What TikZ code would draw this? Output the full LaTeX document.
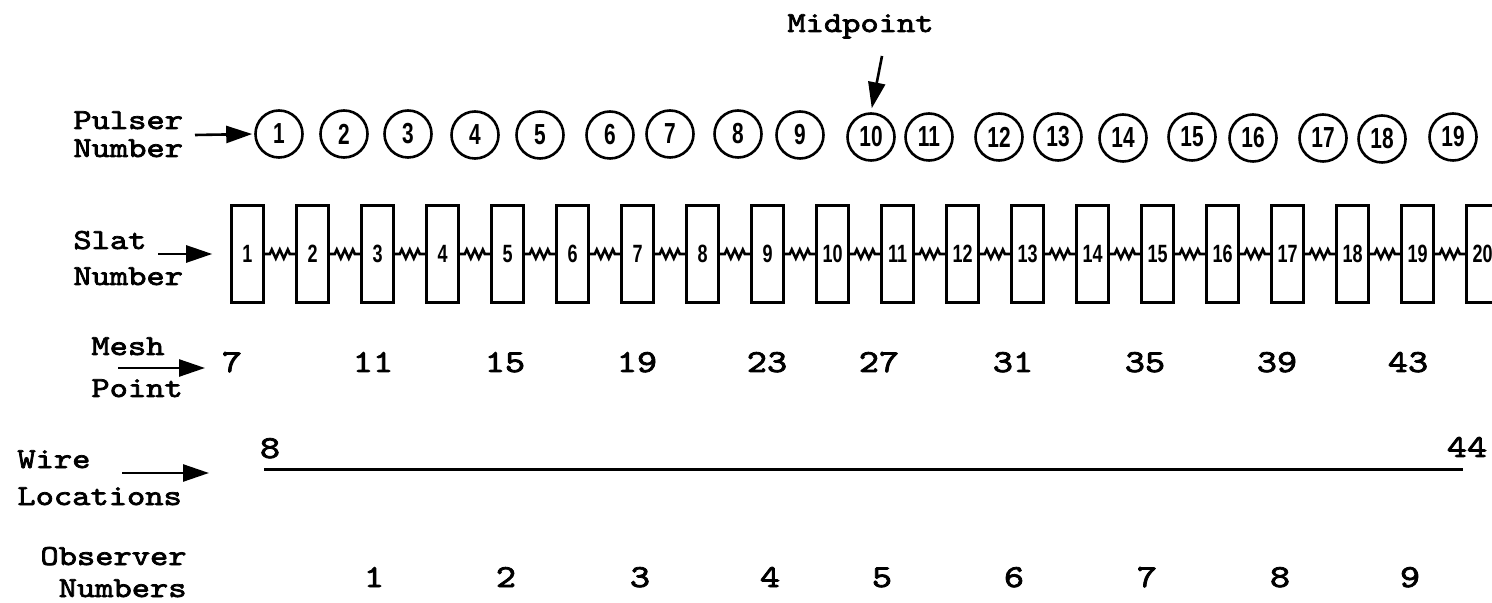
\documentclass[tikz,border=0pt]{standalone}
\usepackage{fontspec}
\usetikzlibrary{arrows.meta,decorations.pathmorphing}
\newfontfamily\lblfont[FakeStretch=1.2,FakeBold=2.5]{lmmono10-regular.otf}
\newfontfamily\digfont[FakeStretch=0.72]{Liberation Sans}
\begin{document}
\begin{tikzpicture}[x=0.5pt,y=-0.5pt,
  lbl/.style={font=\lblfont\fontsize{14.5pt}{14pt}\selectfont, inner sep=0pt},
  num/.style={font=\lblfont\fontsize{16pt}{16pt}\selectfont, inner sep=0pt, anchor=base},
  pulser/.style={circle, draw, line width=1.3pt, minimum size=23.5pt, inner sep=0pt,
    font=\digfont\bfseries\fontsize{14.5pt}{14pt}\selectfont},
  slatbox/.style={rectangle, draw, line width=1.3pt, minimum width=16pt, minimum height=48.5pt,
    inner sep=0pt, font=\digfont\bfseries\fontsize{12.5pt}{12pt}\selectfont},
  springline/.style={decorate, decoration={zigzag, segment length=4pt, amplitude=2.2pt,
    pre length=2.5pt, post length=2.5pt}, line width=1.3pt},
  ptr/.style={-{Triangle[length=13pt,width=8.5pt]}, line width=1.3pt}]
\clip (0,0) rectangle (1492,603);
% Midpoint
\node[lbl, anchor=base west] (mid) at (787,32) {Midpoint};
% pulser circles
\foreach \i/\x/\y in {1/279/134, 2/344/134, 3/408/134, 4/475/135, 5/540/135, 6/610/135,
  7/670/134, 8/738/134, 9/800/135, 10/871/137, 11/929/137, 12/999/137, 13/1058/137,
  14/1123/138, 15/1192/137, 16/1253/138, 17/1323/138, 18/1382/139, 19/1453/137}
  \node[pulser] (c\i) at (\x,\y) {\i};
\coordinate (midtail) at (882,56);
\draw[ptr, shorten >=2pt] (midtail) -- (c10.north);
% slats
\foreach \i in {1,...,20}
  \node[slatbox] (s\i) at ({247.5+65*(\i-1)},254) {\i};
\foreach \i in {1,...,19}{
  \pgfmathtruncatemacro{\j}{\i+1}
  \draw[springline] (s\i.east) -- (s\j.west);
}
% left labels
\node[lbl, anchor=base west] (pl1) at (73,129) {Pulser};
\node[lbl, anchor=base west] (pl2) at (73,157) {Number};
\coordinate (pa) at (195,135);
\draw[ptr, shorten >=1pt] (pa) -- (c1.west);

\node[lbl, anchor=base west] (sl1) at (73,249) {Slat};
\node[lbl, anchor=base west] (sl2) at (73,285) {Number};
\coordinate (sa) at (158,254);
\draw[ptr, shorten >=9pt] (sa) -- (s1.west);

\node[lbl, anchor=base west] (ml1) at (91,355) {Mesh};
\node[lbl, anchor=base west] (ml2) at (91,397) {Point};
\coordinate (ma0) at (118,368);
\coordinate (ma1) at (205,368);
\draw[ptr] (ma0) -- (ma1);

\node[lbl, anchor=base west] (wl1) at (17,468) {Wire};
\node[lbl, anchor=base west] (wl2) at (17,505) {Locations};
\coordinate (wa0) at (122,473);
\coordinate (wa1) at (209,473);
\draw[ptr] (wa0) -- (wa1);

\node[lbl, anchor=base east] (ol1) at (187,565) {Observer};
\node[lbl, anchor=base east] (ol2) at (187,597) {Numbers};
% mesh numbers
\foreach \n/\x in {7/232, 11/373, 15/505, 19/637, 23/767, 27/879, 31/1013, 35/1145, 39/1277, 43/1408}
  \node[num] (m\n) at (\x,372) {\n};
% wire
\node[num] (w8) at (270,458) {8};
\node[num] (w44) at (1467,457) {44};
\coordinate (w0) at (264,470);
\coordinate (w1) at (1463,470);
\draw[line width=1.5pt] (w0) -- (w1);
% observer numbers
\foreach \n/\x in {1/374, 2/506, 3/640, 4/770, 5/882, 6/1014, 7/1147, 8/1280, 9/1410}
  \node[num] (o\n) at (\x,587) {\n};
\end{tikzpicture}
\end{document}
